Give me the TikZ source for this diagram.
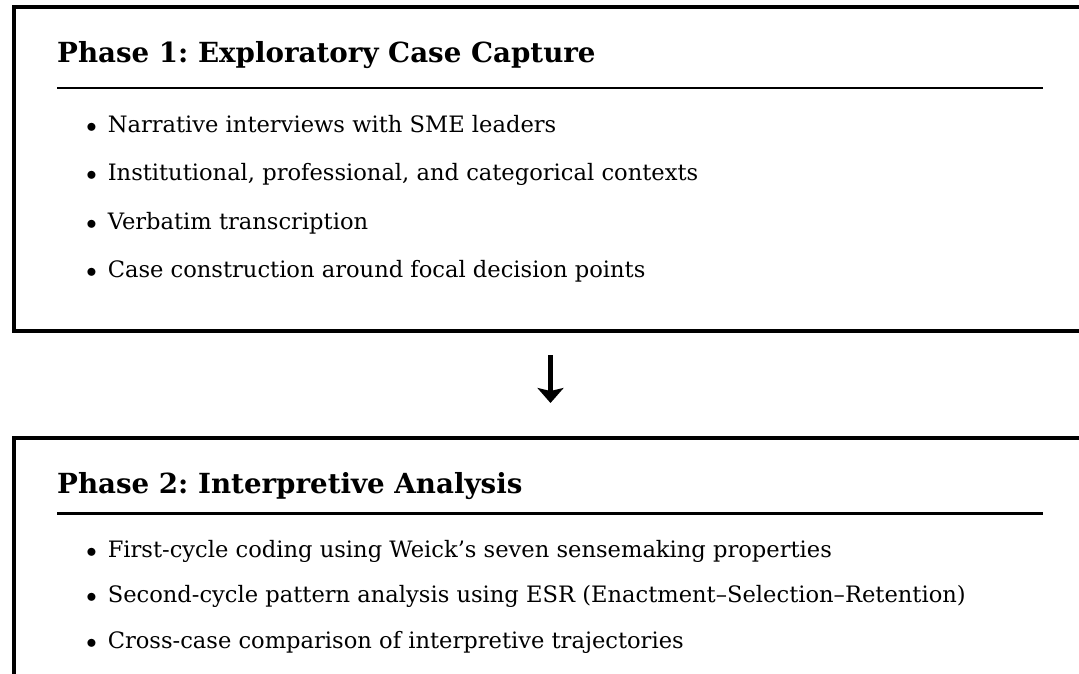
\documentclass[tikz,border=0pt]{standalone}
\usepackage{fontspec}
\setmainfont{DejaVu Serif}
\usetikzlibrary{arrows.meta}
\frenchspacing

\tikzset{
  panel/.style={draw=black, line width=4pt, fill=white, inner sep=0pt},
  heading/.style={anchor=base west, inner sep=0pt, font=\fontsize{27.7}{32}\selectfont\bfseries},
  item/.style={anchor=base west, inner sep=0pt, font=\fontsize{22.6}{26}\selectfont},
  rule/.style={line width=2.6pt},
  flow/.style={line width=5.5pt, -{Stealth[width=26pt, length=15pt, inset=3pt]}}
}

\newcommand{\itm}[1]{$\bullet$\hspace{11pt}#1}

\begin{document}
\begin{tikzpicture}[x=1pt, y=-1pt]
  \useasboundingbox (0,0) rectangle (1079,674);
  \clip (0,0) rectangle (1079,674);

  % Phase 1 panel
  \node[panel, anchor=north west, minimum width=1100pt, minimum height=323pt] (p1) at (11.5,5.5) {};
  \node[heading] (h1) at (57,63) {Phase 1: Exploratory Case Capture};
  \draw[rule] (57,88) -- (1043,88);
  \node[item] (i11) at (86.2,132) {\itm{Narrative interviews with SME leaders}};
  \node[item] (i12) at (86.2,180.5) {\itm{Institutional, professional, and categorical contexts}};
  \node[item] (i13) at (86.2,229) {\itm{Verbatim transcription}};
  \node[item] (i14) at (86.2,277.5) {\itm{Case construction around focal decision points}};

  % Phase 2 panel
  \node[panel, anchor=north west, minimum width=1100pt, minimum height=300pt] (p2) at (11.5,435.5) {};
  \node[heading] (h2) at (57,493) {Phase 2: Interpretive Analysis};
  \draw[rule] (57,513.5) -- (1043,513.5);
  \node[item] (i21) at (86.2,557) {\itm{First-cycle coding using Weick’s seven sensemaking properties}};
  \node[item] (i22) at (86.2,602.5) {\itm{Second-cycle pattern analysis using ESR (Enactment–Selection–Retention)}};
  \node[item] (i23) at (86.2,648) {\itm{Cross-case comparison of interpretive trajectories}};

  % transition between the phases
  \coordinate (from) at (550.5,355);
  \coordinate (to) at (550.5,403);
  \draw[flow] (from) -- (to);
\end{tikzpicture}
\end{document}
